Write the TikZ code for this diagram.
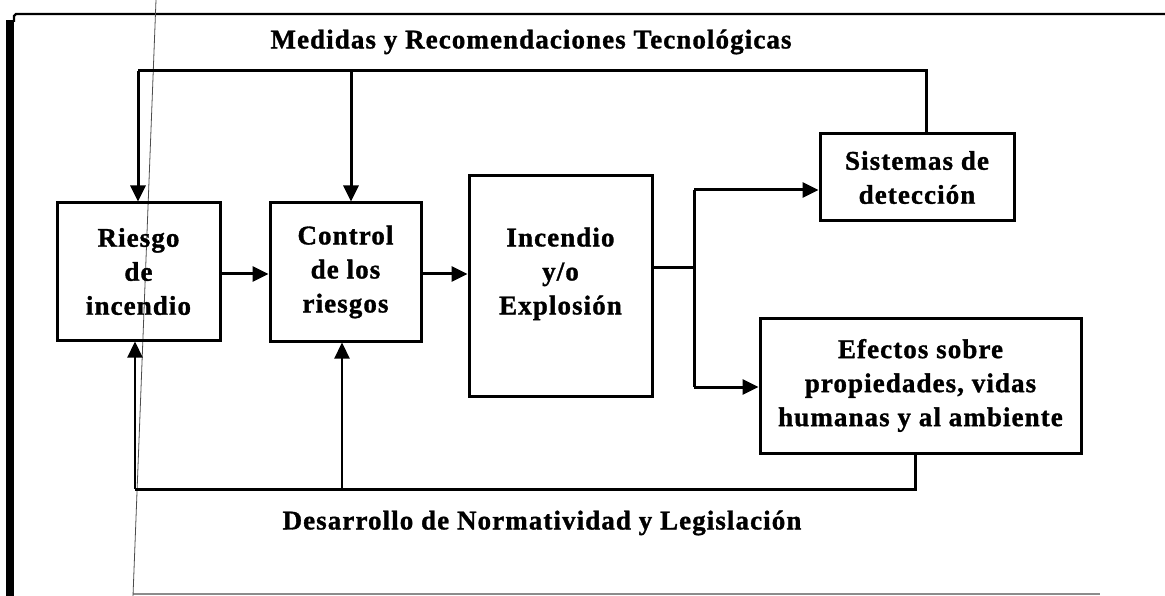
\documentclass[tikz,border=0pt]{standalone}
\usepackage{fontspec}
\setmainfont{Liberation Serif}[LetterSpace=4, BoldFeatures={FakeBold=1.2}]
\usetikzlibrary{arrows.meta}
\tikzset{
  box/.style={draw, line width=3pt, inner sep=0pt, align=center,
    font=\fontsize{27}{34}\selectfont\bfseries},
  conn/.style={line width=3pt},
  thinconn/.style={line width=2.2pt},
  arr/.style={-{Triangle[length=16pt,width=15pt]}},
  lbl/.style={font=\fontsize{27}{34}\selectfont\bfseries, inner sep=0pt},
}
\begin{document}
\begin{tikzpicture}[x=1pt,y=-1pt]
\useasboundingbox (0,0) rectangle (1165,596);
% frame
\fill[black] (6,20) rectangle (14,596);
\draw[line width=2.2pt] (14,22) -- (14,16) -- (16,14) -- (1165,14);
\draw[line width=1.6pt, black!45] (133,594) -- (1100,594);
% scan line
\draw[line width=0.8pt, black!70] (156,0) -- (133,596);

% boxes
\node[box, minimum width=163pt, minimum height=137pt] (riesgo) at (138.5,271.5) {Riesgo\\de\\incendio};
\node[box, minimum width=151pt, minimum height=138pt] (control) at (345.5,272) {Control\\de los\\riesgos};
\node[box, minimum width=183pt, minimum height=220pt, text depth=30pt] (incendio) at (560.5,286) {Incendio\\y/o\\Explosión};
\node[box, minimum width=194pt, minimum height=87pt] (sistemas) at (917,177.5) {Sistemas de\\detección};
\node[box, minimum width=321pt, minimum height=135pt] (efectos) at (920.5,385.5) {Efectos sobre\\propiedades, vidas\\humanas y al ambiente};

% labels
\node[lbl] (titulo) at (531,42) {Medidas y Recomendaciones Tecnológicas};
\node[lbl] (pie) at (542,523) {Desarrollo de Normatividad y Legislación};

% top feedback bus
\coordinate (tR) at (138,71);
\coordinate (tC) at (351,71);
\coordinate (tS) at (926,71);
\draw[conn] (tS |- sistemas.north) -- (tS) -- (tR);
\draw[conn,arr] (tR) -- (tR |- riesgo.north);
\draw[conn,arr] (tC) -- (tC |- control.north);

% main chain
\coordinate (a1) at (0,274);
\draw[conn,arr] (riesgo.east |- a1) -- (control.west |- a1);
\draw[conn,arr] (control.east |- a1) -- (incendio.west |- a1);

% branch
\coordinate (br) at (694,268);
\coordinate (bt) at (694,190);
\coordinate (bb) at (694,387);
\draw[conn] (incendio.east |- br) -- (br);
\draw[conn] (bt) -- (bb);
\draw[conn,arr] (bt) -- (sistemas.west |- bt);
\draw[conn,arr] (bb) -- (efectos.west |- bb);

% bottom feedback bus
\coordinate (bE) at (915,489);
\coordinate (bR) at (135,489);
\coordinate (bC) at (342,489);
\draw[conn] (bE |- efectos.south) -- (bE) -- (bR);
\draw[thinconn,arr] (bR) -- (bR |- riesgo.south);
\draw[thinconn,arr] (bC) -- (bC |- control.south);
\end{tikzpicture}
\end{document}
